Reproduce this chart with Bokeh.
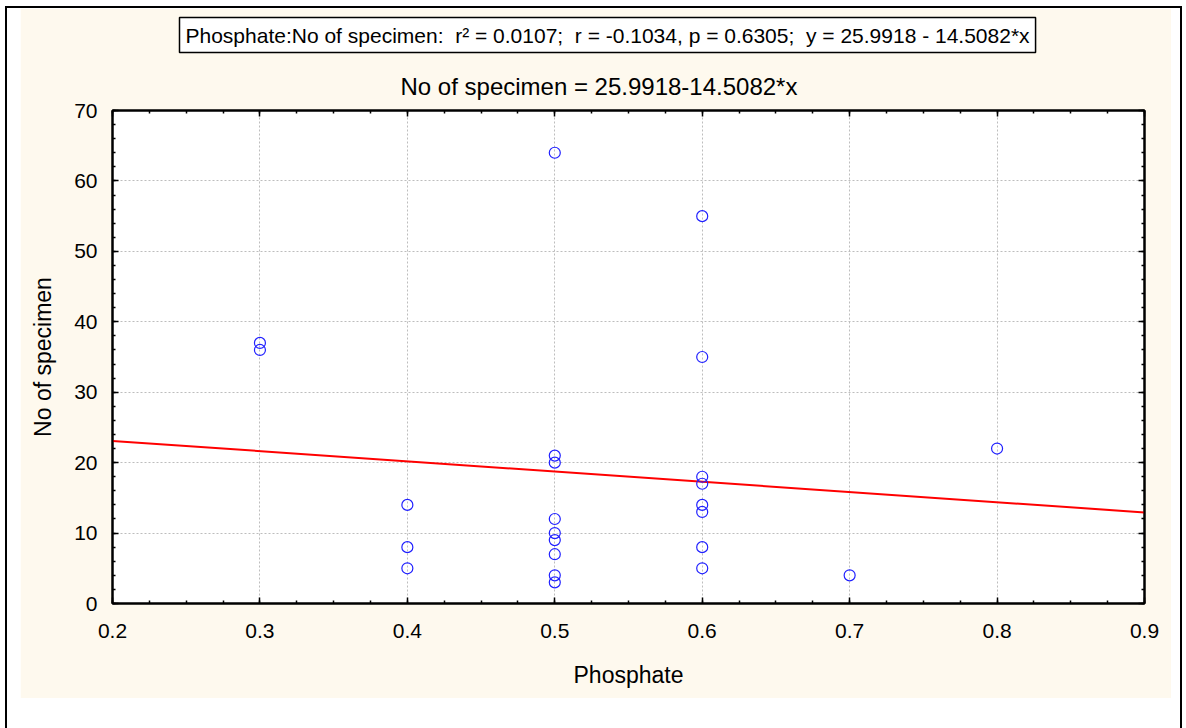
from bokeh.plotting import figure
from bokeh.layouts import column
from bokeh.models import (Range1d, SingleIntervalTicker, LinearAxis, Title,
                          CustomJSTickFormatter)
from bokeh.embed import file_html
from bokeh.resources import INLINE

# ---- data ----
phosphate = [0.3, 0.3,
             0.4, 0.4, 0.4,
             0.5, 0.5, 0.5, 0.5, 0.5, 0.5, 0.5, 0.5, 0.5,
             0.6, 0.6, 0.6, 0.6, 0.6, 0.6, 0.6, 0.6,
             0.7, 0.8]
specimen = [37, 36,
            14, 8, 5,
            64, 21, 20, 12, 10, 9, 7, 4, 3,
            55, 35, 18, 17, 14, 13, 8, 5,
            4, 22]
intercept = 25.9918
slope = -14.5082
fit_x = [0.2, 0.9]
fit_y = [intercept + slope * v for v in fit_x]

NB = "\u00a0"
box_title = ("Phosphate:No of specimen:" + NB + " r\u00b2 = 0.0107;" + NB +
             " r = -0.1034, p = 0.6305;" + NB + " y = 25.9918 - 14.5082*x")
sub_title = "No of specimen = 25.9918-14.5082*x"
x_label = "Phosphate"
y_label = "No of specimen"

FONT = "Liberation Sans"
CREAM = "#FEF9EE"

# cream panel occupies page x 20..1171, y 8..698 ; frame at page 112..1144, 110..603
PW, PH = 1151, 690
p = figure(width=PW, height=PH, output_backend="svg", toolbar_location=None,
           x_range=Range1d(0.2, 0.9), y_range=Range1d(0, 70),
           min_border_left=92, min_border_right=27, min_border_top=102,
           min_border_bottom=95,
           border_fill_color=CREAM, background_fill_color="white",
           outline_line_color="black", outline_line_width=2,
           x_axis_location=None, y_axis_location=None)
p.title.visible = False

def style_axis(ax, labels=True):
    ax.axis_line_color = "black"
    ax.axis_line_width = 2
    ax.major_tick_in = 6
    ax.major_tick_out = 0
    ax.minor_tick_in = 3
    ax.minor_tick_out = 0
    ax.major_tick_line_color = "black"
    ax.minor_tick_line_color = "black"
    ax.major_tick_line_width = 1.5
    ax.minor_tick_line_width = 1.5
    ax.major_label_text_font = FONT
    ax.major_label_text_font_size = "21px"
    ax.major_label_text_color = "black"
    ax.axis_label_text_font = FONT
    ax.axis_label_text_font_size = "23px"
    ax.axis_label_text_font_style = "normal"
    ax.axis_label_text_color = "black"
    if not labels:
        ax.formatter = CustomJSTickFormatter(code="return ''")

xt = SingleIntervalTicker(interval=0.1, num_minor_ticks=4)
yt = SingleIntervalTicker(interval=10, num_minor_ticks=5)

xb = LinearAxis(ticker=xt, axis_label=x_label)
style_axis(xb)
xb.major_label_standoff = 20
xb.axis_label_standoff = 21
p.add_layout(xb, "below")

yl = LinearAxis(ticker=yt, axis_label=y_label)
style_axis(yl)
yl.major_label_standoff = 15
yl.axis_label_standoff = 15
p.add_layout(yl, "left")

xa = LinearAxis(ticker=xt)
style_axis(xa, labels=False)
xa.major_label_standoff = 0
p.add_layout(xa, "above")

yr = LinearAxis(ticker=yt)
style_axis(yr, labels=False)
yr.major_label_standoff = 0
p.add_layout(yr, "right")

p.xgrid.ticker = xt
p.ygrid.ticker = yt
for g in (p.xgrid, p.ygrid):
    g.grid_line_color = "#bdbdbd"
    g.grid_line_dash = "2 2"
    g.grid_line_width = 1
    g.minor_grid_line_color = None

p.line(fit_x, fit_y, line_color="#ff0000", line_width=2)
p.scatter(phosphate, specimen, marker="circle", size=11, fill_color=None,
          line_color="#2020ff", line_width=1.2)

t_sub = Title(text=sub_title, align="left", offset=288, standoff=22,
              text_font=FONT, text_font_size="24px", text_font_style="normal",
              text_color="black")
p.add_layout(t_sub, "above")
t_box = Title(text=box_title, align="left", offset=67, standoff=14,
              text_font=FONT, text_font_size="21px", text_font_style="normal",
              text_color="black", background_fill_color="white",
              border_line_color="black", border_line_width=1.5, padding=6)
p.add_layout(t_box, "above")

page = column(p, margin=(6, 0, 0, 5),
              styles={"background-color": "white",
                      "border-left": "2px solid black",
                      "border-right": "2px solid black",
                      "border-top": "2px solid black",
                      "padding": "0px 9px 60px 13px"})

open("out.html", "w").write(file_html(page, INLINE))
